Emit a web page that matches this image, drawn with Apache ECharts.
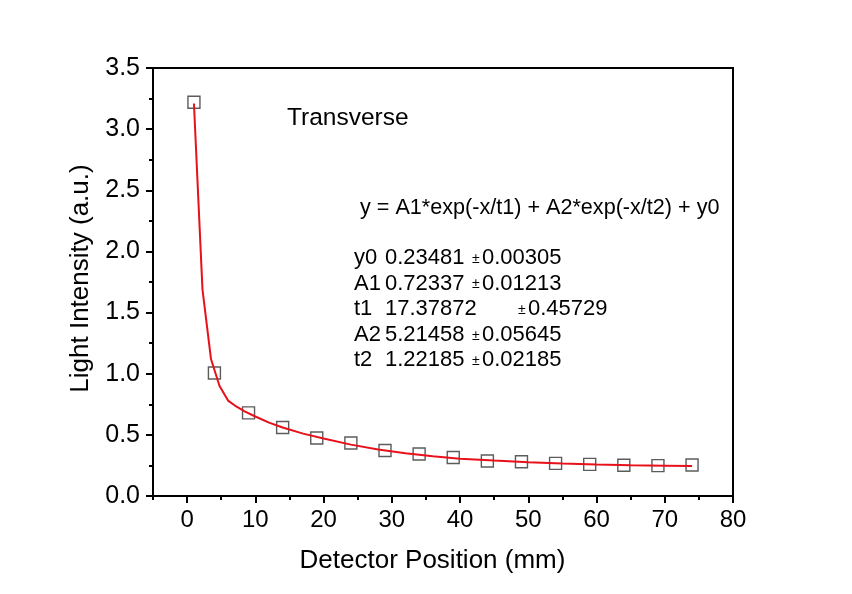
<!DOCTYPE html>
<html>
<head>
<meta charset="utf-8">
<script src="https://cdn.jsdelivr.net/npm/echarts@6/dist/echarts.min.js"></script>
<style>html,body{margin:0;padding:0;background:#fff}#c{width:852px;height:594px}</style>
</head>
<body>
<div id="c"></div>
<script>
// Measured data points (squares)
const posX = [1, 4, 9, 14, 19, 24, 29, 34, 39, 44, 49, 54, 59, 64, 69, 74];
const intensity = [3.22, 1.006, 0.68, 0.56, 0.474, 0.433, 0.372, 0.343, 0.315, 0.286, 0.28, 0.267, 0.259, 0.251, 0.248, 0.253];
// Fit curve
const fitX = [1, 2.25, 3.5, 4.75, 6, 7.25, 8.5, 10, 12, 14, 17, 20, 24, 28, 32, 36, 40, 45, 50, 55, 60, 65, 70, 74];
const fitY = [3.21, 1.69, 1.12, 0.90, 0.78, 0.73, 0.69, 0.65, 0.60, 0.56, 0.51, 0.47, 0.42, 0.38, 0.35, 0.325, 0.305, 0.29, 0.277, 0.266, 0.258, 0.252, 0.248, 0.245];
// Axis ticks
const xMajorTicks = [0, 10, 20, 30, 40, 50, 60, 70, 80];
const yTickLabels = ['0.0', '0.5', '1.0', '1.5', '2.0', '2.5', '3.0', '3.5'];
// Annotation texts
const titleText = 'Transverse';
const equationText = 'y = A1*exp(-x/t1) + A2*exp(-x/t2) + y0';
const paramNames = ['y0', 'A1', 't1', 'A2', 't2'];
const paramValues = ['0.23481', '0.72337', '17.37872', '5.21458', '1.22185'];
const paramErrors = ['0.00305', '0.01213', '0.45729', '0.05645', '0.02185'];

const FF = "Arial, 'Liberation Sans', sans-serif";
const chart = echarts.init(document.getElementById('c'));

const graphics = [
  { type: 'text', left: 287, top: 106, style: { text: titleText, font: '24.5px ' + FF, fill: '#000' } },
  { type: 'text', left: 360, top: 197, style: { text: equationText, font: '21.6px ' + FF, fill: '#000' } }
];
paramNames.forEach((n, i) => {
  const top = 247 + i * 25.6;
  graphics.push({ type: 'text', left: 354, top: top, style: { text: n, font: '22px ' + FF, fill: '#000' } });
  graphics.push({ type: 'text', left: 385, top: top, style: { text: paramValues[i], font: '22px ' + FF, fill: '#000' } });
  const ex = (n === 't1') ? 518 : 472;
  graphics.push({ type: 'text', left: ex, top: top + 5, style: { text: '±', font: '14px ' + FF, fill: '#000' } });
  graphics.push({ type: 'text', left: ex + 10, top: top, style: { text: paramErrors[i], font: '22px ' + FF, fill: '#000' } });
});

chart.setOption({
  animation: false,
  backgroundColor: '#fff',
  grid: { left: 153, right: 119, top: 68, bottom: 98, show: true, borderColor: '#000', borderWidth: 2, backgroundColor: 'transparent' },
  xAxis: [
    {
      type: 'value', min: -5, max: 80, interval: 5,
      name: 'Detector Position (mm)', nameLocation: 'middle', nameGap: 52,
      nameTextStyle: { fontFamily: FF, fontSize: 26, color: '#000', padding: [0, 21, 0, 0] },
      axisLine: { show: true, onZero: false, lineStyle: { color: '#000', width: 2 } },
      axisTick: { show: true, inside: false, length: 4, lineStyle: { color: '#000', width: 2 } },
      axisLabel: { fontFamily: FF, fontSize: 24, color: '#000', margin: 12,
        formatter: v => (xMajorTicks.indexOf(v) >= 0 ? String(v) : '') },
      splitLine: { show: false }
    },
    {
      type: 'value', min: -5, max: 80, position: 'bottom', gridIndex: 0,
      axisLine: { show: false },
      axisTick: { show: true, inside: false, length: 7, customValues: xMajorTicks, lineStyle: { color: '#000', width: 2 } },
      axisLabel: { show: false },
      splitLine: { show: false }
    }
  ],
  yAxis: {
    type: 'value', min: 0, max: 3.5, interval: 0.5,
    name: 'Light Intensity (a.u.)', nameLocation: 'middle', nameGap: 59, nameRotate: 90,
    nameTextStyle: { fontFamily: FF, fontSize: 26, color: '#000', padding: [0, 0, 0, 7] },
    axisLine: { show: true, onZero: false, lineStyle: { color: '#000', width: 2 } },
    axisTick: { show: true, inside: false, length: 7, lineStyle: { color: '#000', width: 2 } },
    minorTick: { show: true, splitNumber: 2, length: 4, lineStyle: { color: '#000', width: 2 } },
    axisLabel: { fontFamily: FF, fontSize: 25, color: '#000', margin: 13,
      formatter: v => yTickLabels[Math.round(v / 0.5)] },
    splitLine: { show: false },
    minorSplitLine: { show: false }
  },
  graphic: graphics,
  series: [
    {
      type: 'scatter', xAxisIndex: 0,
      data: posX.map((x, i) => [x, intensity[i]]),
      symbol: 'rect', symbolSize: 12,
      itemStyle: { color: 'rgba(0,0,0,0)', borderColor: '#333', borderWidth: 1.4 },
      z: 2
    },
    {
      type: 'line', xAxisIndex: 0,
      data: fitX.map((x, i) => [x, fitY[i]]),
      showSymbol: false, symbol: 'none',
      lineStyle: { color: '#e8101a', width: 2 },
      z: 3
    }
  ]
});
</script>
</body>
</html>
